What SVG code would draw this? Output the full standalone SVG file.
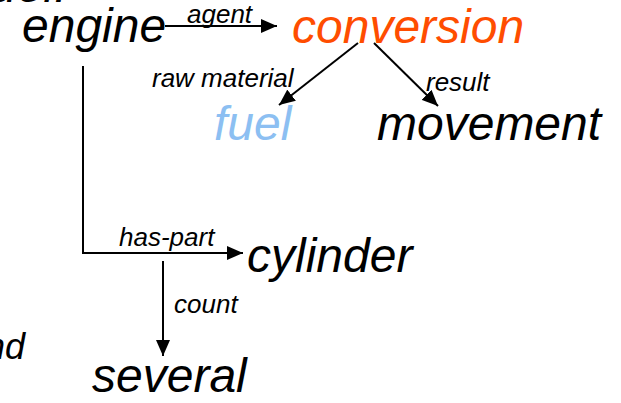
<svg xmlns="http://www.w3.org/2000/svg" width="621" height="403" viewBox="0 0 621 403">
  <defs>
    <style>
      .t { font-family: "Liberation Sans", Arial, sans-serif; font-style: italic; fill: #000; }
      .big { font-size: 48px; }
      .lbl { font-size: 26px; }
      .edge { stroke: #000; stroke-width: 2; fill: none; }
    </style>
    <marker id="arr" viewBox="0 0 16 14" refX="16" refY="7" markerWidth="16" markerHeight="14" markerUnits="userSpaceOnUse" orient="auto">
      <path d="M0,0 L16,7 L0,14 Z" fill="#000"/>
    </marker>
  </defs>
  <rect width="621" height="403" fill="#fff"/>

  <!-- clipped text fragments at the slide edges -->
  <text class="t big" x="-10" y="2">uel:</text>
  <text class="t" x="25" y="359" font-size="36" text-anchor="end">nd</text>

  <g id="connectors">
    <line class="edge" x1="165" y1="26" x2="277" y2="26" marker-end="url(#arr)"/>
    <text class="t lbl" x="187" y="23">agent</text>
    <line class="edge" x1="358" y1="43" x2="279" y2="105" marker-end="url(#arr)"/>
    <text class="t lbl" x="152" y="87">raw material</text>
    <line class="edge" x1="374" y1="43" x2="438" y2="106" marker-end="url(#arr)"/>
    <text class="t lbl" x="426" y="91">result</text>
    <polyline class="edge" points="83,66 83,253 243,253" marker-end="url(#arr)"/>
    <text class="t lbl" x="119" y="246">has-part</text>
    <line class="edge" x1="163" y1="261" x2="163" y2="356" marker-end="url(#arr)"/>
    <text class="t lbl" x="174" y="313">count</text>
  </g>

  <g id="engine"><text class="t big" x="22" y="42">engine</text></g>
  <g id="conversion"><text class="t big" x="292" y="43" style="fill:#ff4d00">conversion</text></g>
  <g id="fuel"><text class="t big" x="214" y="140" style="fill:#8cbff2">fuel</text></g>
  <g id="movement"><text class="t big" x="377" y="140">movement</text></g>
  <g id="cylinder"><text class="t big" x="247" y="272">cylinder</text></g>
  <g id="several"><text class="t big" x="92" y="392">several</text></g>
</svg>
